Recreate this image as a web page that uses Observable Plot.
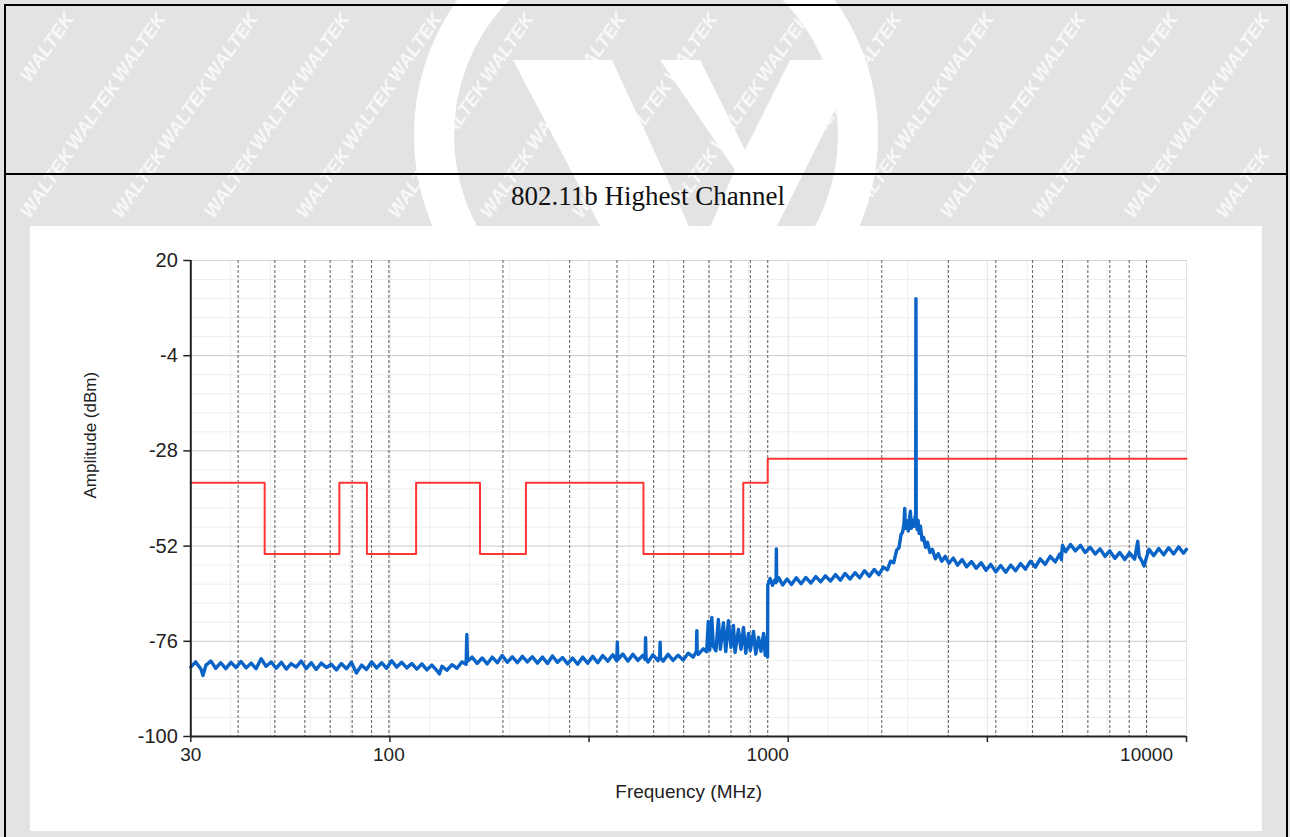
<!DOCTYPE html>
<html>
<head>
<meta charset="utf-8">
<script src="https://cdn.jsdelivr.net/npm/d3@7"></script>
<script src="https://cdn.jsdelivr.net/npm/@observablehq/plot@0.6"></script>
<style>
  html, body { margin: 0; padding: 0; }
  body { width: 1290px; height: 837px; position: relative; overflow: hidden; background: #e3e3e3; font-family: "Liberation Sans", Arial, sans-serif; }
  #wm { position: absolute; left: 0; top: 0; width: 1290px; height: 837px; overflow: hidden; }
  #wm span { position: absolute; width: 80px; height: 24px; line-height: 24px; text-align: center; font: italic bold 19px "Liberation Sans", Arial, sans-serif; color: rgba(255,255,255,0.78); transform: rotate(-55deg); transform-origin: center; white-space: nowrap; }
  #logo { position: absolute; left: 0; top: 0; }
  .bd { position: absolute; background: #000; }
  #title { position: absolute; left: 0; top: 183px; width: 1296px; text-align: center; font-family: "Liberation Serif", "Times New Roman", serif; font-size: 27px; line-height: 27px; color: #111; }
  #chart { position: absolute; left: 30px; top: 226px; width: 1232px; height: 605px; background: #fff; }
</style>
</head>
<body>
<div id="wm"></div>
<svg id="logo" width="1290" height="837">
  <circle cx="646" cy="135" r="212" fill="none" stroke="#fff" stroke-width="40"/>
  <polygon points="513,60 612,60 700,250 735,170 660,60 700,60 745,150 790,60 860,60 720,340 660,340" fill="#fff"/>
</svg>
<div class="bd" style="left:4px; top:4px; width:1284px; height:2px"></div>
<div class="bd" style="left:4px; top:173px; width:1284px; height:2px"></div>
<div class="bd" style="left:4px; top:4px; width:2px; height:840px"></div>
<div class="bd" style="left:1286px; top:4px; width:2px; height:840px"></div>
<div id="title">802.11b Highest Channel</div>
<div id="chart"></div>
<script>
// ---- data ----
const limitFreq  = [30, 47, 74, 87.5, 118, 174, 230, 470, 862, 1000, 12750];
const limitLevel = [-36, -54, -36, -54, -36, -54, -36, -54, -36, -30, -30];

const traceFreq = [
  30, 30.9, 31.9, 32.3, 32.9, 33.9, 34.9, 36.0, 37.1, 38.3, 39.5, 40.7, 42.0, 43.3, 44.6, 46.0, 47.4, 48.9, 50.4, 52.0,
  53.6, 55.2, 56.9, 58.7, 60.5, 62.4, 64.3, 66.3, 68.4, 70.5, 72.7, 74.9, 77.3, 79.6, 82.1, 84.7, 87.3, 90.0, 92.8, 95.7,
  98.6, 101.7, 104.9, 108.1, 111.5, 114.9, 118.5, 122.2, 126.0, 129.9, 133.9, 136.0, 138.1, 142.3, 146.8, 151.3, 156.0, 159.9, 160.6, 161.3,
  165.8, 171.0, 176.3, 181.7, 187.4, 193.2, 199.2, 205.4, 211.7, 218.3, 225.1, 232.0, 239.2, 246.7, 254.3, 262.2, 270.3, 278.7, 287.4, 296.3,
  305.5, 314.9, 324.7, 334.8, 345.2, 355.9, 366.9, 378.3, 390.0, 399.5, 400.9, 402.3, 414.6, 427.4, 440.7, 454.4, 468.5, 474.6, 476.0, 477.4,
  483.0, 498.0, 513.4, 518.6, 520.0, 521.4, 529.4, 545.8, 562.7, 580.2, 598.2, 616.7, 635.8, 648.5, 650.0, 651.5, 655.6, 675.9, 690.0, 696.9,
  703.0, 712.0, 718.5, 730.0, 740.8, 750.0, 763.8, 775.0, 787.5, 800.0, 811.9, 820.0, 837.1, 850.0, 863.1, 875.0, 889.9, 900.0, 917.5, 930.0,
  946.0, 960.0, 975.3, 985.0, 995.0, 999.0,
  1000.5, 1015, 1030, 1045, 1052, 1054, 1056, 1070, 1095, 1125, 1155, 1190, 1225, 1260, 1300, 1340, 1380, 1420, 1465, 1510,
  1555, 1600, 1650, 1700, 1750, 1800, 1855, 1910, 1965, 2020, 2070, 2110, 2150, 2190, 2220, 2250, 2270, 2290, 2300, 2310,
  2330, 2350, 2370, 2380, 2395, 2415, 2435, 2450, 2458, 2462, 2466, 2480, 2495, 2510, 2530, 2555, 2580, 2610, 2640, 2680,
  2720, 2770, 2820, 2880, 2940, 3010, 3090, 3170, 3260, 3350, 3450, 3550, 3660, 3770, 3880, 4000, 4120, 4250, 4380, 4510,
  4650, 4790, 4940, 5090, 5240, 5400, 5570, 5740, 5900, 5960, 6000, 6120, 6300, 6490, 6690, 6890, 7100, 7320, 7540, 7770,
  8000, 8250, 8500, 8760, 9020, 9300, 9480, 9560, 9700, 9850, 10000, 10150, 10450, 10770, 11100, 11440, 11790, 12150, 12520, 12750
];
const traceLevel = [
  -82.5, -81.2, -83.0, -84.6, -82.0, -81.0, -82.8, -81.4, -82.9, -81.3, -82.6, -81.1, -82.7, -81.5, -82.9, -80.4, -82.3, -81.2, -82.8, -81.3,
  -83.0, -81.6, -82.5, -81.0, -82.9, -81.4, -83.1, -81.5, -82.6, -81.8, -83.2, -81.6, -82.9, -81.3, -84.0, -82.0, -83.1, -81.2, -82.7, -81.4,
  -82.8, -80.9, -82.5, -81.3, -82.7, -81.6, -83.0, -81.7, -83.2, -82.0, -83.4, -84.2, -82.3, -83.3, -81.9, -82.8, -81.2, -81.8, -74.3, -81.0,
  -80.0, -81.6, -80.2, -81.7, -80.0, -81.4, -79.6, -81.3, -79.9, -81.4, -79.8, -81.2, -79.9, -81.5, -80.0, -81.6, -79.7, -81.3, -80.1, -81.7,
  -80.2, -81.8, -80.0, -81.5, -79.8, -81.4, -79.6, -81.0, -79.4, -80.9, -76.2, -80.6, -79.2, -81.0, -79.3, -80.8, -79.5, -80.6, -75.1, -80.2,
  -81.2, -79.4, -80.9, -79.8, -76.2, -80.2, -81.0, -79.3, -80.8, -79.5, -80.7, -79.0, -80.0, -78.5, -73.3, -78.8, -79.3, -77.9, -78.6, -71.0,
  -78.2, -70.0, -77.3, -78.4, -70.5, -78.0, -71.3, -78.6, -70.8, -77.5, -72.0, -78.8, -73.0, -78.0, -72.5, -79.0, -74.0, -78.3, -73.5, -79.2,
  -75.0, -78.5, -74.0, -79.5, -75.0, -80.0,
  -61.8, -60.2, -61.9, -60.5, -61.2, -52.7, -61.0, -60.0, -61.8, -60.3, -61.7, -60.0, -61.5, -59.9, -61.3, -59.7, -61.0, -59.5, -60.8, -59.2,
  -60.6, -58.9, -60.3, -58.7, -60.0, -58.2, -59.6, -57.9, -59.2, -57.3, -58.0, -55.8, -56.2, -53.0, -52.5, -49.0, -48.6, -46.2, -42.5, -47.5,
  -45.6, -48.2, -44.8, -43.2, -47.5, -45.5, -47.0, -44.5, -45.5, 10.4, -45.0, -47.8, -45.5, -48.8, -47.0, -50.5, -49.8, -52.3, -51.0, -53.6,
  -52.8, -55.2, -53.9, -55.8, -54.6, -56.3, -55.0, -56.8, -55.4, -57.2, -55.9, -57.6, -56.2, -58.1, -56.6, -58.5, -56.9, -58.6, -56.8, -58.2,
  -56.4, -57.8, -55.8, -57.3, -55.2, -56.6, -54.6, -56.0, -54.0, -55.4, -51.8, -53.4, -51.6, -53.2, -51.8, -53.6, -52.3, -54.0, -52.7, -54.6,
  -53.2, -55.1, -53.6, -55.4, -53.7, -55.3, -50.8, -54.6, -55.6, -57.0, -54.8, -52.8, -54.4, -52.6, -54.2, -52.4, -54.0, -52.2, -53.8, -52.8
];

const yTicks      = [-100, -76, -52, -28, -4, 20];
const yMinorGrid  = [-95.2, -90.4, -85.6, -80.8, -71.2, -66.4, -61.6, -56.8, -47.2, -42.4, -37.6, -32.8, -23.2, -18.4, -13.6, -8.8, 0.8, 5.6, 10.4, 15.2];
const xTickValues = [30, 100.64, 337.6, 1132.7, 3800.5, 12750];
const xMinorGrid  = [38.22, 48.68, 62.02, 79.0, 128.2, 163.3, 208.0, 265.0, 430.2, 548.0, 698.1, 889.3,
                     1443.2, 1838.5, 2342.0, 2983.5, 4841.7, 6167.8, 7857.0, 10009];
const xLabels     = [30, 100, 1000, 10000];
const markerFreqs = [40, 50, 60, 70, 80, 90, 100, 200, 300, 400, 500, 600, 700, 800, 900, 1000,
                     2000, 3000, 4000, 5000, 6000, 7000, 8000, 9000, 10000];
const xTitle = "Frequency (MHz)";
const yTitle = "Amplitude (dBm)";

// ---- watermark (decoration), only where it is fully visible ----
const wm = document.getElementById("wm");
for (let r = 0; r < 3; r++) {
  for (let c = 0; c < 15; c++) {
    const cx = 48 + c * 92 + (r % 2 ? 46 : 0);
    const cy = 48 + r * 68;
    if (cx > 1248) continue;
    const s = document.createElement("span");
    s.textContent = "WALTEK";
    s.style.left = (cx - 40) + "px";
    s.style.top = (cy - 12) + "px";
    wm.appendChild(s);
  }
}

// ---- chart ----
const trace = traceFreq.map((f, i) => ({f, v: traceLevel[i]}));
const limit = limitFreq.map((f, i) => ({f, v: limitLevel[i]}));

const chart = Plot.plot({
  width: 1232,
  height: 605,
  marginLeft: 160.3,
  marginRight: 76,
  marginTop: 34,
  marginBottom: 95,
  x: {type: "log", domain: [30, 12750]},
  y: {domain: [-100, 20]},
  style: {background: "#fff", fontFamily: "'Liberation Sans', Arial, sans-serif", color: "#222", overflow: "visible"},
  marks: [
    Plot.ruleY(yMinorGrid, {stroke: "#ededed", strokeWidth: 1}),
    Plot.ruleX(xMinorGrid, {stroke: "#ededed", strokeWidth: 1}),
    Plot.ruleX(xTickValues, {stroke: "#e2e2e2", strokeWidth: 1}),
    Plot.ruleY(yTicks, {stroke: "#d4d4d4", strokeWidth: 1.2}),
    Plot.ruleX(markerFreqs, {stroke: "#6a6a6a", strokeWidth: 1.1, strokeDasharray: "3,2"}),
    Plot.line(limit, {x: "f", y: "v", curve: "step-after", stroke: "#ff3535", strokeWidth: 2}),
    Plot.line(trace, {x: "f", y: "v", stroke: "#0a64c8", strokeWidth: 3.4, strokeLinejoin: "round"}),
    Plot.ruleX([30], {stroke: "#222", strokeWidth: 2}),
    Plot.ruleY([-100], {stroke: "#222", strokeWidth: 2}),
    Plot.axisY(yTicks, {tickSize: 7, tickPadding: 6, fontSize: 20, strokeWidth: 1.5, tickFormat: d => String(d), label: null}),
    Plot.axisX(xTickValues, {tickSize: 6, tickFormat: () => "", strokeWidth: 1.5, label: null}),
    Plot.axisX(xLabels, {tickSize: 0, tickPadding: 11, fontSize: 19, tickFormat: d => String(d), label: null}),
    Plot.text([yTitle], {frameAnchor: "left", dx: -100, rotate: -90, fontSize: 17, fill: "#222"}),
    Plot.text([xTitle], {frameAnchor: "bottom", dy: 61, fontSize: 19, fill: "#222"})
  ]
});
document.getElementById("chart").appendChild(chart);
</script>
</body>
</html>
